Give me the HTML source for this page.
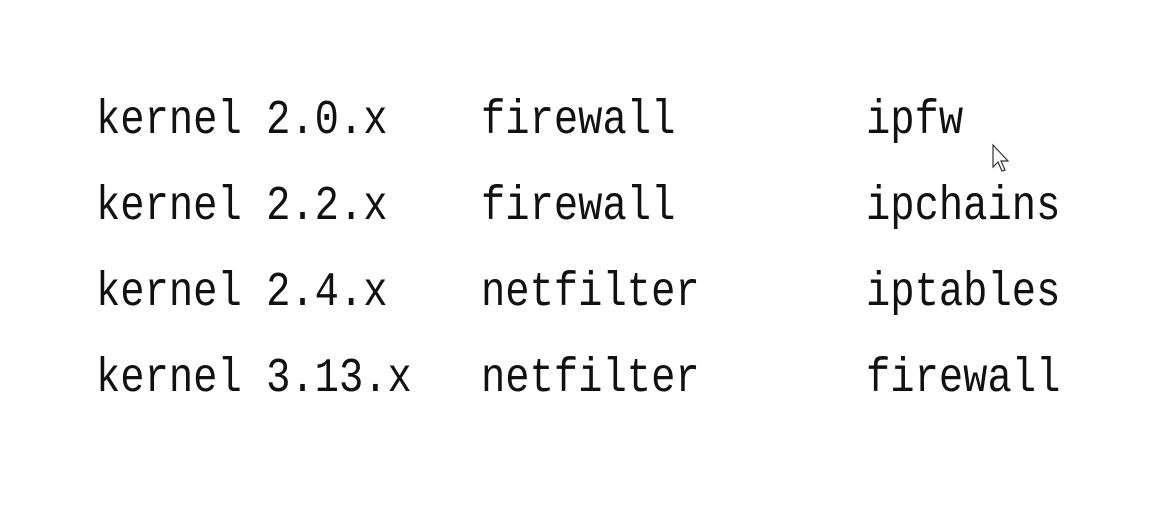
<!DOCTYPE html>
<html><head><meta charset="utf-8"><style>
html,body{margin:0;padding:0;background:#fff;}
svg{display:block;}
text{font-family:"Liberation Mono","Noto Sans CJK SC",monospace;font-size:40.5px;fill:#111;}
</style></head><body>
<svg width="1158" height="508" viewBox="0 0 1158 508" xmlns="http://www.w3.org/2000/svg">
<rect width="1158" height="508" fill="#fff"/>
<g>
<text transform="translate(96,133) scale(1,1.2)">kernel 2.0.x</text>
<text transform="translate(481,133) scale(1,1.2)">firewall</text>
<text transform="translate(866,133) scale(1,1.2)">ipfw</text>
<text transform="translate(96,219) scale(1,1.2)">kernel 2.2.x</text>
<text transform="translate(481,219) scale(1,1.2)">firewall</text>
<text transform="translate(866,219) scale(1,1.2)">ipchains</text>
<text transform="translate(96,305) scale(1,1.2)">kernel 2.4.x</text>
<text transform="translate(481,305) scale(1,1.2)">netfilter</text>
<text transform="translate(866,305) scale(1,1.2)">iptables</text>
<text transform="translate(96,391) scale(1,1.2)">kernel 3.13.x</text>
<text transform="translate(481,391) scale(1,1.2)">netfilter</text>
<text transform="translate(866,391) scale(1,1.2)">firewall</text>
</g>
<path d="M993,145 L993,167 L998,162 L1002,171 L1005,170 L1001,161 L1008,161 Z" fill="#fff" stroke="#333" stroke-width="1.2"/>
</svg>
</body></html>
